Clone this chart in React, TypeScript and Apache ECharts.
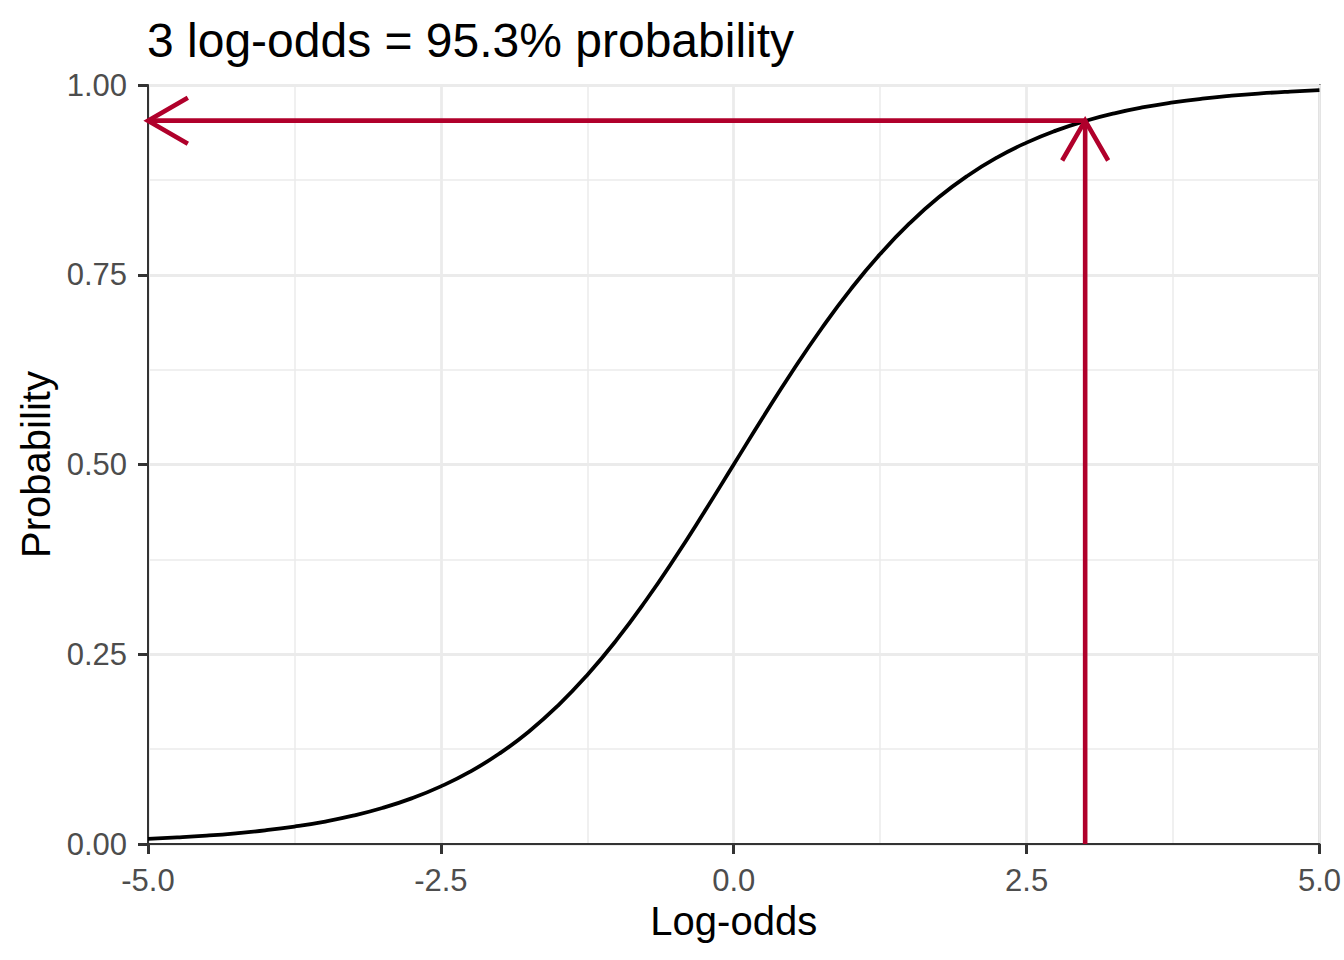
import React, { useEffect, useRef } from "react";
import * as echarts from "echarts";

const logOdds = [
  -5, -4.75, -4.5, -4.25, -4, -3.75, -3.5, -3.25, -3, -2.75, -2.5, -2.25, -2, -1.75, -1.5, -1.25, -1, -0.75, -0.5, -0.25,
  0, 0.25, 0.5, 0.75, 1, 1.25, 1.5, 1.75, 2, 2.25, 2.5, 2.75, 3, 3.25, 3.5, 3.75, 4, 4.25, 4.5, 4.75, 5,
];
const probability = [
  0.0067, 0.0086, 0.011, 0.0141, 0.018, 0.023, 0.0293, 0.0373, 0.0474, 0.0601, 0.0759, 0.0953, 0.1192, 0.148, 0.1824,
  0.2227, 0.2689, 0.3208, 0.3775, 0.4378, 0.5, 0.5622, 0.6225, 0.6792, 0.7311, 0.7773, 0.8176, 0.852, 0.8808, 0.9047,
  0.9241, 0.9399, 0.9526, 0.9627, 0.9707, 0.977, 0.982, 0.9859, 0.989, 0.9914, 0.9933,
];
// arrows: [fromX, fromY, toX, toY]
const arrowHorizontal = [3, 0.953, -5, 0.953];
const arrowVertical = [3, 0, 3, 0.953];
const xTicks = [-5, -2.5, 0, 2.5, 5];
const yTicks = [0, 0.25, 0.5, 0.75, 1];
const titleText = "3 log-odds = 95.3% probability";

const FONT = "'Liberation Sans', Arial, Helvetica, sans-serif";
const RED = "#B0002B";

export default function App() {
  const ref = useRef<HTMLDivElement>(null);
  useEffect(() => {
    if (!ref.current) return;
    const chart = echarts.init(ref.current, undefined, { renderer: "svg" });
    const curve = logOdds.map((x, i) => [x, probability[i]]);
    const option: any = {
      animation: false,
      backgroundColor: "#ffffff",
      textStyle: { fontFamily: FONT },
      title: {
        text: titleText,
        left: 142,
        top: 11,
        textStyle: { fontFamily: FONT, fontSize: 48, fontWeight: "normal", color: "#000000" },
      },
      grid: {
        left: 148,
        right: 21,
        top: 85,
        bottom: 116,
        show: true,
        borderColor: "#333333",
        borderWidth: 2,
        backgroundColor: "transparent",
      },
      xAxis: {
        type: "value",
        min: xTicks[0],
        max: xTicks[xTicks.length - 1],
        interval: xTicks[1] - xTicks[0],
        name: "Log-odds",
        nameLocation: "middle",
        nameGap: 54,
        nameTextStyle: { fontFamily: FONT, fontSize: 40, color: "#000000" },
        axisLine: { show: true, onZero: false, lineStyle: { color: "#333333", width: 2 } },
        axisTick: { show: true, length: 10, lineStyle: { color: "#333333", width: 3 } },
        axisLabel: {
          fontFamily: FONT,
          fontSize: 31,
          color: "#4D4D4D",
          margin: 21,
          formatter: (v: number) => v.toFixed(1),
        },
        splitLine: { show: true, lineStyle: { color: "#EBEBEB", width: 2.8 } },
        minorTick: { show: false, splitNumber: 2 },
        minorSplitLine: { show: true, lineStyle: { color: "#EBEBEB", width: 1.5 } },
      },
      yAxis: {
        type: "value",
        min: yTicks[0],
        max: yTicks[yTicks.length - 1],
        interval: yTicks[1] - yTicks[0],
        name: "Probability",
        nameLocation: "middle",
        nameGap: 92,
        nameTextStyle: { fontFamily: FONT, fontSize: 40, color: "#000000" },
        axisLine: { show: true, onZero: false, lineStyle: { color: "#333333", width: 2 } },
        axisTick: { show: true, length: 10, lineStyle: { color: "#333333", width: 3 } },
        axisLabel: {
          fontFamily: FONT,
          fontSize: 31,
          color: "#4D4D4D",
          margin: 21,
          formatter: (v: number) => v.toFixed(2),
        },
        splitLine: { show: true, lineStyle: { color: "#EBEBEB", width: 2.8 } },
        minorTick: { show: false, splitNumber: 2 },
        minorSplitLine: { show: true, lineStyle: { color: "#EBEBEB", width: 1.5 } },
      },
      series: [
        {
          type: "line",
          data: curve,
          smooth: true,
          showSymbol: false,
          symbol: "none",
          lineStyle: { color: "#000000", width: 3.8 },
          z: 3,
        },
        {
          type: "custom",
          data: [arrowHorizontal, arrowVertical],
          clip: false,
          z: 4,
          encode: { x: [0, 2], y: [1, 3] },
          renderItem: (params: any, api: any) => {
            const p1 = api.coord([api.value(0), api.value(1)]);
            const p2 = api.coord([api.value(2), api.value(3)]);
            const ang = Math.atan2(p2[1] - p1[1], p2[0] - p1[0]);
            const len = 46;
            const spread = Math.PI / 6;
            const h1 = [p2[0] - len * Math.cos(ang - spread), p2[1] - len * Math.sin(ang - spread)];
            const h2 = [p2[0] - len * Math.cos(ang + spread), p2[1] - len * Math.sin(ang + spread)];
            const style = { stroke: RED, lineWidth: 4.6, fill: null };
            return {
              type: "group",
              children: [
                { type: "line", shape: { x1: p1[0], y1: p1[1], x2: p2[0], y2: p2[1] }, style },
                { type: "polyline", shape: { points: [h1, p2, h2] }, style },
              ],
            };
          },
        },
      ],
    };
    chart.setOption(option);
    return () => chart.dispose();
  }, []);
  return (
    <div
      ref={ref}
      style={{ position: "fixed", left: 0, top: 0, width: 1344, height: 960, background: "#fff" }}
    />
  );
}
